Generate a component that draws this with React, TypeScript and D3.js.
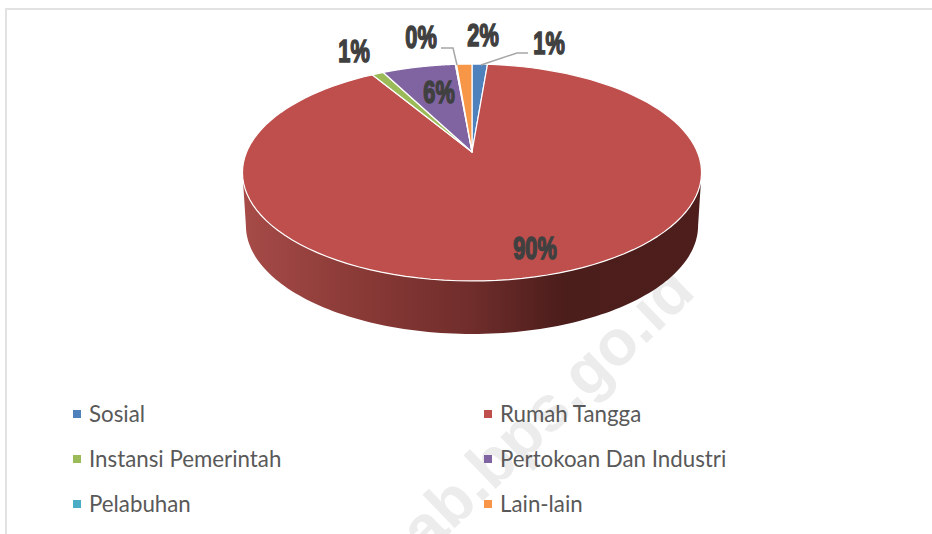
import React from 'react';
import * as d3 from 'd3';

const categories = ['Sosial', 'Rumah Tangga', 'Instansi Pemerintah', 'Pertokoan Dan Industri', 'Pelabuhan', 'Lain-lain'];
const values = [1.3, 90.1, 1.0, 6.2, 0.1, 1.3];
const percentLabels = ['1%', '90%', '1%', '6%', '0%', '2%'];
const colors = ['#4f81bd', '#be4f4d', '#9bbb59', '#8064a2', '#4bacc6', '#f79646'];

// perspective disc: apex sits above the centre of the ellipse
const apexX = 472;
const apexY = 152;
const rimX = 225.4;
const rimY = 104.6;
const tilt = 0.189;
const depth = 53;

const project = (a: number): [number, number] => {
  const d = 1 + tilt * Math.cos(a);
  return [apexX + (rimX * Math.sin(a)) / d, apexY - (rimY * Math.cos(a)) / d];
};

const line = d3.line();
const arcPoints = (a0: number, a1: number) =>
  d3.range(0, 121).map((i) => project(a0 + ((a1 - a0) * i) / 120));

const slices = d3.pie<number>().sort(null)(values);

// lower rim of the wall is a little narrower than the top
const lower = ([x, y]: [number, number]): [number, number] => [apexX + (x - apexX) * 0.985, y + depth];

const sideA = Math.acos(-tilt);
const nearEdge = arcPoints(sideA, 2 * Math.PI - sideA);
const wallPath = line([...nearEdge.map(lower), ...nearEdge.slice().reverse()]) + 'Z';

const labelX = d3.scaleOrdinal<string, number>().domain(categories).range([549, 535, 354, 439, 421, 483]);
const labelY = d3.scaleOrdinal<string, number>().domain(categories).range([54, 259, 62, 103, 48, 46]);

const legendX = d3.scaleOrdinal<number, number>().domain([0, 1]).range([73, 484]);
const legendY = d3.scalePoint<number>().domain([0, 1, 2]).range([414, 504]);

export default function App() {
  return (
    <svg width={932} height={534} style={{ position: 'absolute', left: 0, top: 0, background: '#fff' }}>
      <defs>
        <linearGradient id="wall" gradientUnits="userSpaceOnUse" x1={243} x2={702} y1={0} y2={0}>
          <stop offset="0" stopColor="#a64b48" />
          <stop offset="0.25" stopColor="#8a3a37" />
          <stop offset="0.5" stopColor="#6f2d2b" />
          <stop offset="0.7" stopColor="#4b1d1b" />
          <stop offset="1" stopColor="#4d1e1c" />
        </linearGradient>
      </defs>

      <text
        transform="translate(426,556) rotate(-44)"
        fontFamily="'Liberation Sans', sans-serif"
        fontWeight="bold"
        fontSize={64}
        fill="#ececec"
      >
        ab.bps.go.id
      </text>

      <path d="M5,9H932M6,9V534" fill="none" stroke="#e2e2e2" strokeWidth={2} />

      <path d={wallPath} fill="url(#wall)" />
      {slices.map((s, i) => (
        <path
          key={categories[i]}
          d={line([[apexX, apexY], ...arcPoints(s.startAngle, s.endAngle)]) + 'Z'}
          fill={colors[i]}
          stroke="#fff"
          strokeWidth={1.2}
          strokeLinejoin="round"
        />
      ))}

      <polyline points="481,65 517,53 528,53" fill="none" stroke="#a6a6a6" strokeWidth={1.5} />
      <polyline points="441,48 453,48 457,65" fill="none" stroke="#a6a6a6" strokeWidth={1.5} />

      {categories.map((c, i) => (
        <text
          key={c}
          transform={`translate(${labelX(c)},${labelY(c)}) scale(0.68,1)`}
          textAnchor="middle"
          fontFamily="'Liberation Sans', sans-serif"
          fontWeight="bold"
          fontSize={32}
          fill="#404040"
          stroke="#404040"
          strokeWidth={1.6}
        >
          {percentLabels[i]}
        </text>
      ))}

      {categories.map((c, i) => {
        const col = i % 2;
        const row = Math.floor(i / 2);
        return (
          <g key={c} transform={`translate(${legendX(col)},${legendY(row)})`}>
            <rect x={0} y={-4} width={8} height={8} fill={colors[i]} />
            <text x={16} y={7.5} fontFamily="Lato, sans-serif" fontSize={22.3} fill="#595959">
              {c}
            </text>
          </g>
        );
      })}
    </svg>
  );
}
